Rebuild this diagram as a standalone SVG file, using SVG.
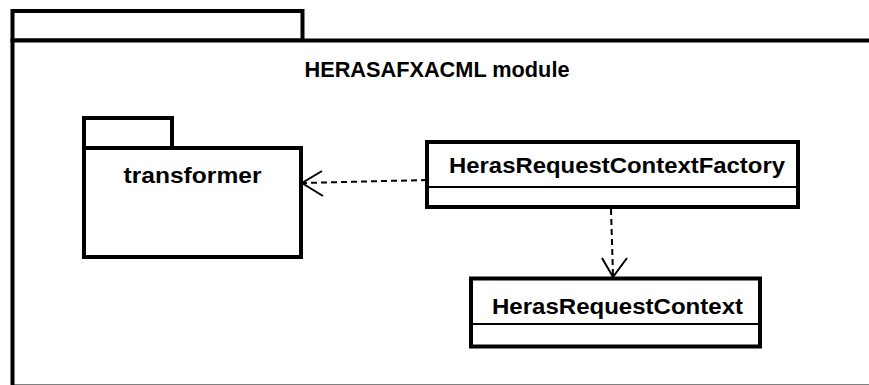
<svg xmlns="http://www.w3.org/2000/svg" width="869" height="385" viewBox="0 0 869 385">
<style>
.pk{fill:#fff;stroke:#000;stroke-width:4}
.cb{fill:#fff;stroke:#000;stroke-width:4}
.dv{stroke:#000;stroke-width:2}
.t{font-family:"Liberation Sans",Arial,sans-serif;font-weight:bold;font-size:22px;fill:#000}
.dep{fill:none;stroke:#000;stroke-width:2;stroke-dasharray:6 4}
.ah{fill:none;stroke:#000;stroke-width:2}
</style>
<rect width="869" height="385" fill="#fff"/>
<g id="module">
<rect class="pk" x="12.5" y="11" width="290" height="29.5"/>
<rect class="pk" x="12.5" y="40.5" width="880" height="346"/>
<text class="t" x="437" y="77" text-anchor="middle" textLength="265" lengthAdjust="spacingAndGlyphs">HERASAFXACML module</text>
</g>
<g id="transformer">
<rect class="pk" x="84" y="118" width="88" height="30"/>
<rect class="pk" x="84" y="148" width="217" height="109"/>
<text class="t" x="192.5" y="183" text-anchor="middle" textLength="138" lengthAdjust="spacingAndGlyphs">transformer</text>
</g>
<g id="HerasRequestContextFactory">
<rect class="cb" x="427" y="142" width="371" height="65"/>
<line class="dv" x1="427" y1="187" x2="798" y2="187"/>
<text class="t" x="449" y="173" textLength="336" lengthAdjust="spacingAndGlyphs">HerasRequestContextFactory</text>
</g>
<g id="HerasRequestContext">
<rect class="cb" x="471" y="278.5" width="289" height="68"/>
<line class="dv" x1="471" y1="324" x2="760" y2="324"/>
<text class="t" x="492" y="314" textLength="251" lengthAdjust="spacingAndGlyphs">HerasRequestContext</text>
</g>
<g id="connectors">
<path class="dep" d="M427 180 L303 183"/>
<path class="ah" d="M322 171 L302 183 L323 196"/>
<path class="dep" d="M611 209 L613 276"/>
<path class="ah" d="M602 258 L613 277 L627 258"/>
</g>
</svg>
